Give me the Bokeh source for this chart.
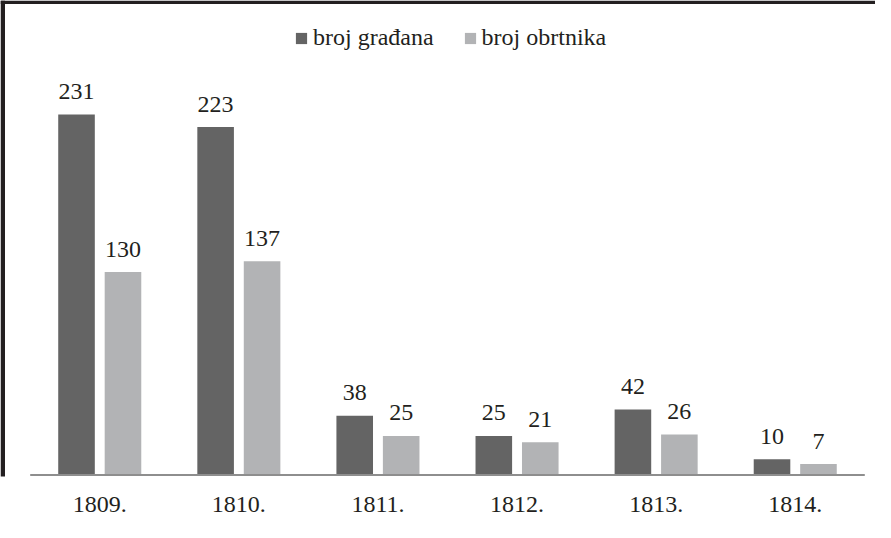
from bokeh.plotting import figure
from bokeh.models import Range1d, FixedTicker, ColumnDataSource, BoxAnnotation, Legend, LegendItem
from bokeh.core.properties import value
from bokeh.embed import file_html
from bokeh.resources import INLINE

# ---- data ----
years = ["1809.", "1810.", "1811.", "1812.", "1813.", "1814."]
gradjani = [231, 223, 38, 25, 42, 10]
obrtnici = [130, 137, 25, 21, 26, 7]
series_names = ["broj građana", "broj obrtnika"]

DARK = "#646464"
LIGHT = "#b2b3b5"
TXT = "#231f20"
FONT = "Liberation Serif"

centers = [i + 0.5 for i in range(len(years))]
dodge = 0.167
bw = 0.263

src_a = ColumnDataSource(dict(x=[c - dodge for c in centers], top=gradjani,
                              lab=[str(v) for v in gradjani]))
src_b = ColumnDataSource(dict(x=[c + dodge for c in centers], top=obrtnici,
                              lab=[str(v) for v in obrtnici]))

p = figure(frame_width=875, frame_height=476, output_backend="svg",
           toolbar_location=None, x_range=Range1d(-0.2135, 6.077),
           y_range=Range1d(-1, 304.1), y_axis_location=None,
           min_border=0, min_border_left=0, min_border_right=0,
           min_border_top=0, min_border_bottom=46)
p.outline_line_color = None
p.grid.visible = False
p.background_fill_color = "white"

ra = p.vbar(x="x", top="top", bottom=0, width=bw, source=src_a,
            fill_color=DARK, line_color=None)
rb = p.vbar(x="x", top="top", bottom=0, width=bw, source=src_b,
            fill_color=LIGHT, line_color=None)

# baseline across the category span
p.segment(x0=[0], y0=[0], x1=[len(years)], y1=[0], line_color="#8e8e8e", line_width=2)

for src in (src_a, src_b):
    p.text(x="x", y="top", text="lab", source=src, text_align="center",
           text_baseline="alphabetic", y_offset=-23, text_color=TXT,
           text_font=value(FONT), text_font_size="24px")

ax = p.xaxis[0]
ax.ticker = FixedTicker(ticks=centers)
ax.major_label_overrides = {c: y for c, y in zip(centers, years)}
ax.axis_line_color = None
ax.major_tick_line_color = None
ax.minor_tick_line_color = None
ax.major_label_standoff = 14
ax.major_label_text_font = FONT
ax.major_label_text_font_size = "24px"
ax.major_label_text_color = TXT

legend = Legend(items=[LegendItem(label=series_names[0], renderers=[ra]),
                       LegendItem(label=series_names[1], renderers=[rb])],
                orientation="horizontal", location=(294, 425))
legend.border_line_color = None
legend.background_fill_alpha = 0
legend.label_text_font = FONT
legend.label_text_font_size = "24px"
legend.label_text_color = TXT
legend.glyph_width = 14
legend.glyph_height = 14
legend.label_standoff = 5
legend.spacing = 29
legend.padding = 0
legend.margin = 0
p.add_layout(legend, "center")

# frame lines (left and top) of the original picture
p.add_layout(BoxAnnotation(left=0, right=4.5, top=0, bottom=530,
                           left_units="canvas", right_units="canvas",
                           top_units="canvas", bottom_units="canvas",
                           fill_color=TXT, fill_alpha=1, line_color=None))
p.add_layout(BoxAnnotation(left=0, right=875, top=0, bottom=3.5,
                           left_units="canvas", right_units="canvas",
                           top_units="canvas", bottom_units="canvas",
                           fill_color=TXT, fill_alpha=1, line_color=None))

open("out.html", "w").write(file_html(p, INLINE))
